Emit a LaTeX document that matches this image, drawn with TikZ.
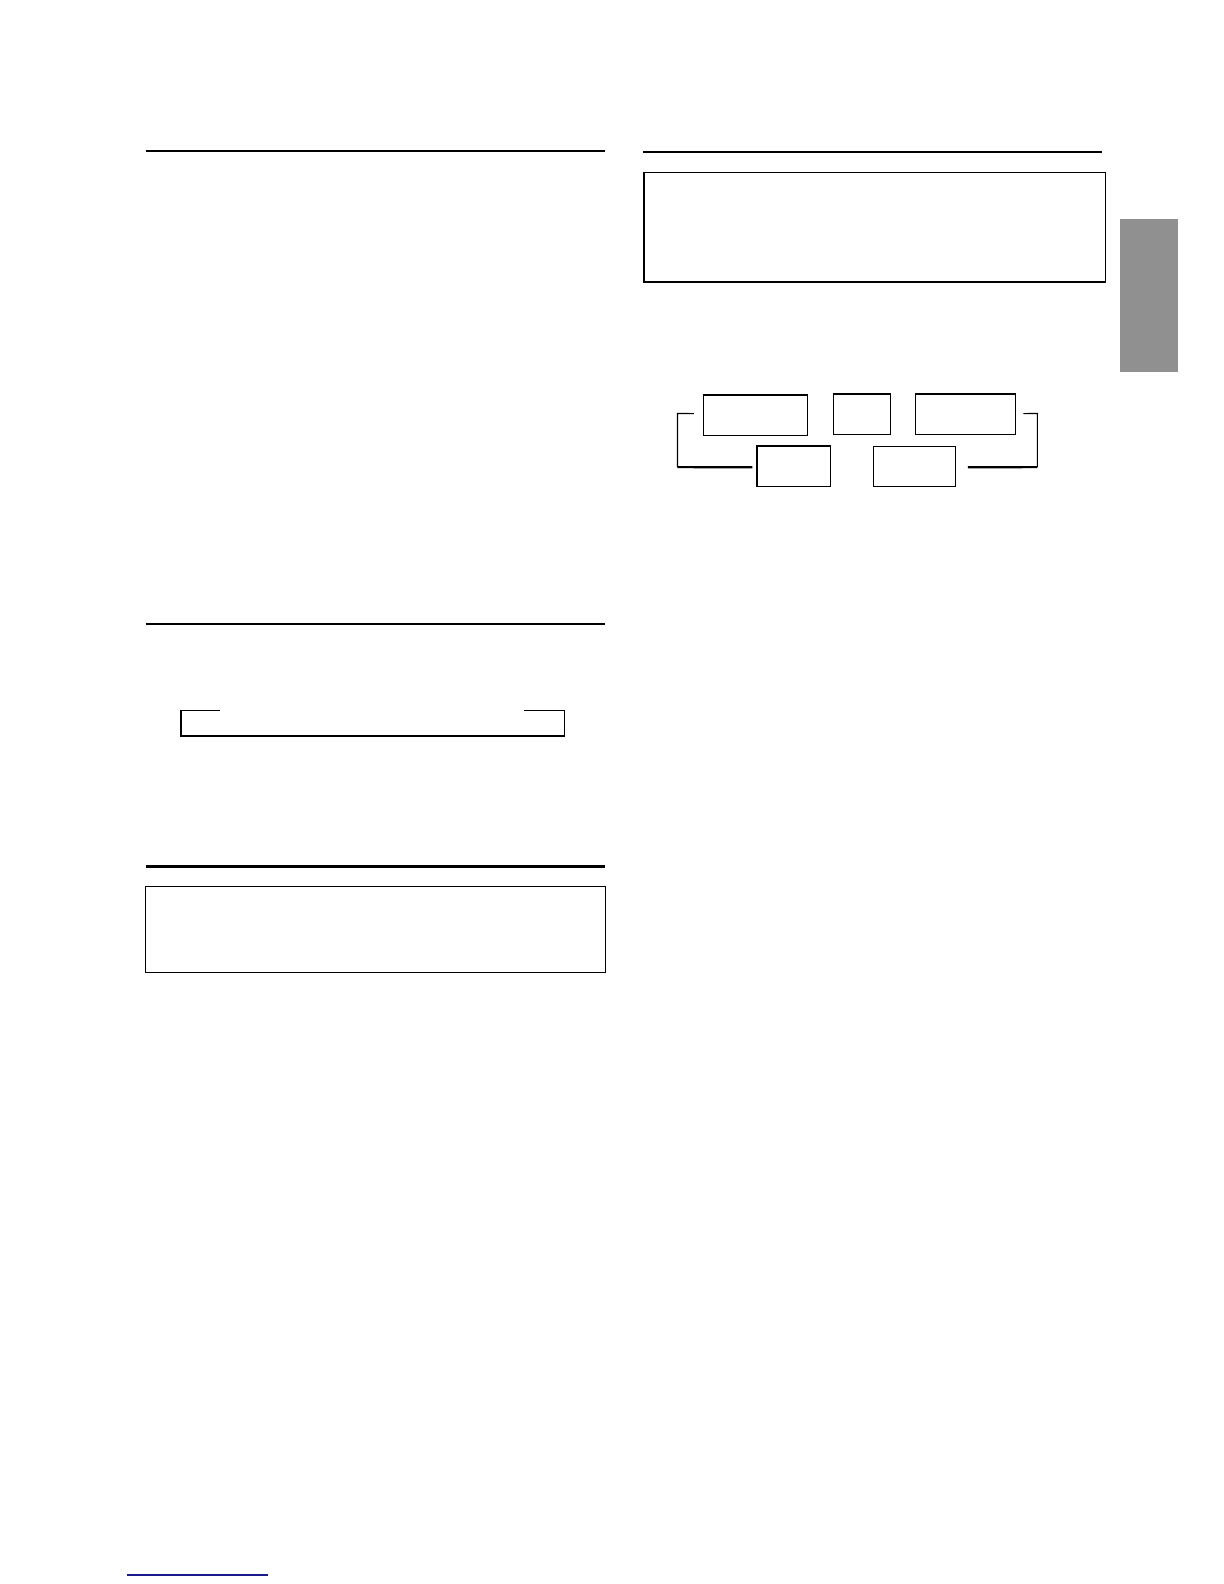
\documentclass[tikz,border=0pt]{standalone}
\usetikzlibrary{positioning}
\definecolor{tabgray}{HTML}{909090}
\definecolor{linkblue}{HTML}{1A1A8C}
\tikzset{
  rulethick/.style={line width=1.1pt},
  boxthin/.style={draw, line width=0.6pt, inner sep=0pt, anchor=north west},
  brk/.style={line width=0.6pt},
  brkthick/.style={line width=1.1pt},
}
\begin{document}
\begin{tikzpicture}[x=0.5pt,y=-0.5pt]
\useasboundingbox (0,0) rectangle (1224,1584);
\begin{scope}[scale=1.0111]
% section rules
\draw[rulethick] (144,149) -- (598,149);
\draw[rulethick] (636,150) -- (1090,150);
\draw[rulethick] (144,617) -- (598,617);
\draw[rulethick] (144,857) -- (598,857);
% top-right box
\draw[line width=0.6pt] (637,171) rectangle (1093,279);
% gray tab
\fill[tabgray] (1108,217) rectangle (1165,368);
% row boxes
\node[boxthin, minimum width=52pt, minimum height=20.2pt] (bA) at (695,390) {};
\node[boxthin, minimum width=28.3pt, minimum height=20.2pt] (bB) at (824,389) {};
\node[boxthin, minimum width=50pt, minimum height=20.2pt] (bC) at (905,389) {};
\node[boxthin, minimum width=36.9pt, minimum height=20.2pt] (bD) at (748,441) {};
\node[boxthin, minimum width=41pt, minimum height=20.2pt] (bE) at (863,441) {};
\draw[brkthick] (bD.north west) -- (bD.north east);
% brackets
\coordinate (lt) at (686,409);
\coordinate (lb) at (744,462);
\coordinate (rt) at (1012,409);
\coordinate (rb) at (957,462);
\draw[brk] (lt) -- (670,409) -- (670,462);
\draw[brkthick] (670,462) -- (lb);
\draw[brk] (rt) -- (1026,409) -- (1026,462);
\draw[brkthick] (1026,462) -- (rb);
% open-top box
\draw[line width=0.6pt] (218,703) -- (179,703) -- (179,728) -- (558,728) -- (558,703) -- (518,703);
% bottom-left box
\draw[line width=0.6pt] (144,877) rectangle (599,962);
\end{scope}
% link underline
\draw[linkblue, line width=0.6pt] (127,1575) -- (268,1575);
\end{tikzpicture}
\end{document}
